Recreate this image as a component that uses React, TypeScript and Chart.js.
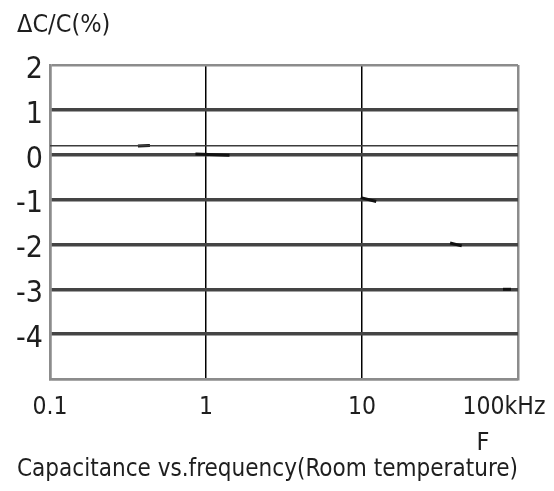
import React, { useEffect, useRef } from 'react';
import { Chart, registerables } from 'chart.js';

Chart.register(...registerables);

// ---- data ----
const xTicks = [0.1, 1, 10, 100];
const xTickLabels = ['0.1', '1', '10', '100kHz    '];
const yTicks = [2, 1, 0, -1, -2, -3, -4, -5];
const yTickLabels = ['2', '1', '0', '-1', '-2', '-3', '-4', ''];
const refLineX = [0.1, 100];
const refLineY = [0.2, 0.2];
const curveX = [0.4, 1.1, 11, 40, 85];
const curveY = [0.2, 0, -1, -2, -3];
const yTitle = 'ΔC/C(%)';
const xTitle = 'F    ';
const caption = 'Capacitance vs.frequency(Room temperature)';

const FAMILY = '"Liberation Sans Narrow", "DejaVu Sans Condensed", "Liberation Sans", sans-serif';
const TEXT = '#1e1e1e';
const EDGE = '#8c8c8c';

export default function App() {
  const ref = useRef<HTMLCanvasElement | null>(null);

  useEffect(() => {
    if (!ref.current) return;
    const chart = new Chart(ref.current, {
      type: 'scatter',
      data: {
        datasets: [
          {
            type: 'line',
            data: refLineX.map((x, i) => ({ x, y: refLineY[i] })),
            borderColor: '#3c3c3c',
            borderWidth: 1.5,
            pointRadius: 0,
          } as any,
          {
            type: 'scatter',
            data: curveX.map((x, i) => ({ x, y: curveY[i] })),
            pointStyle: 'line',
            pointRadius: [6, 17, 8, 6, 4],
            rotation: [-3, 2, 14, 14, 0],
            borderColor: '#111',
            borderWidth: 3,
            showLine: false,
          } as any,
        ],
      },
      options: {
        responsive: false,
        animation: false,
        layout: { padding: { left: 17, right: 36, top: 0, bottom: 0 } },
        plugins: {
          legend: { display: false },
          tooltip: { enabled: false },
          subtitle: {
            display: true,
            text: yTitle,
            position: 'top',
            align: 'start',
            color: TEXT,
            font: { family: FAMILY, size: 25, weight: 'normal' },
            padding: { top: 10, bottom: 25 },
          },
          title: {
            display: true,
            text: caption,
            position: 'bottom',
            align: 'center',
            color: TEXT,
            font: { family: FAMILY, size: 25.5, weight: 'normal' },
            padding: { top: 0, bottom: 6 },
          },
        },
        scales: {
          x: {
            type: 'logarithmic',
            min: 0.1,
            max: 100,
            afterBuildTicks: (s: any) => {
              s.ticks = xTicks.map((v) => ({ value: v }));
            },
            afterFit: (s: any) => {
              s.paddingLeft = 0;
              s.paddingRight = 0;
            },
            ticks: {
              autoSkip: false,
              maxRotation: 0,
              padding: 14,
              color: TEXT,
              font: { family: FAMILY, size: 24.5 },
              callback: (_v: any, i: number) => xTickLabels[i],
            },
            grid: {
              drawTicks: false,
              color: (c: any) => (c.tick && (c.tick.value === 1 || c.tick.value === 10) ? '#000' : EDGE),
              lineWidth: (c: any) => (c.tick && (c.tick.value === 1 || c.tick.value === 10) ? 1.5 : 2.5),
            },
            border: { display: true, color: EDGE, width: 2.5 },
            title: {
              display: true,
              text: xTitle,
              align: 'end',
              color: TEXT,
              font: { family: FAMILY, size: 25 },
              padding: { top: -8, bottom: -4 },
            },
          },
          y: {
            type: 'linear',
            min: -5,
            max: 2,
            afterBuildTicks: (s: any) => {
              s.ticks = yTicks.map((v) => ({ value: v }));
            },
            afterFit: (s: any) => {
              s.paddingTop = 0;
              s.paddingBottom = 0;
              s.width = 33;
            },
            ticks: {
              padding: 7,
              labelOffset: 5,
              color: TEXT,
              font: { family: FAMILY, size: 30 },
              callback: (_v: any, i: number) => yTickLabels[i],
            },
            grid: {
              drawTicks: false,
              color: (c: any) => (c.tick && (c.tick.value === 2 || c.tick.value === -5) ? EDGE : '#444'),
              lineWidth: (c: any) => (c.tick && (c.tick.value === 2 || c.tick.value === -5) ? 2.5 : 3.5),
            },
            border: { display: true, color: EDGE, width: 2.5 },
          },
        },
      } as any,
    });
    return () => chart.destroy();
  }, []);

  return (
    <div style={{ position: 'absolute', left: 0, top: 0, width: 554, height: 491, background: '#fff' }}>
      <canvas ref={ref} width={554} height={491} style={{ display: 'block' }} />
    </div>
  );
}
